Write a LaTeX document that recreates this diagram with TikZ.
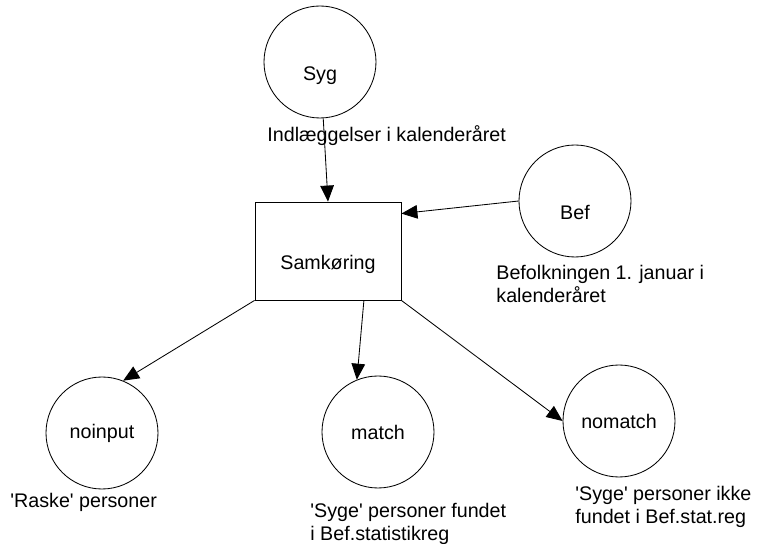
\documentclass[tikz,border=0pt]{standalone}
\usepackage{fontspec}
\setmainfont{Liberation Sans}
\usetikzlibrary{arrows.meta,positioning}

\begin{document}
\begin{tikzpicture}[
                ->,
                >={Triangle[length=4mm,width=3.4mm]},
                on grid,
                line width=0.6pt,
                font=\fontsize{14}{16}\selectfont,
                tabel/.style={circle,draw,minimum size=2.8cm,inner sep=0pt},
                job/.style={rectangle,draw,minimum width=3.65cm,minimum height=2.45cm},
                lavtekst/.style={text height=27pt,text depth=0pt},
                tekst/.style={inner sep=0pt,align=left}]
            \useasboundingbox (-8.2,-7.325) rectangle (10.925,6.275);

            \node[job,lavtekst]     (sam)     []                                        {Samkøring};
            \node[tabel,lavtekst]   (syg)     [above left=4.725cm and 0.2cm of sam]     {Syg};
            \node[tabel,lavtekst]   (bef)     [above right=1.25cm and 6.175cm of sam]   {Bef};
            \node[tabel]            (noinput) [below left=4.55cm and 5.65cm of sam]     {noinput};
            \node[tabel]            (match)   [below right=4.525cm and 1.25cm of sam]   {match};
            \node[tabel]            (nomatch) [below right=4.25cm and 7.275cm of sam]   {nomatch};

            % tekster under tabellerne
            \node[tekst] (sygtxt)     [below left=1.575cm and 1.325cm of syg, anchor=north west]
                {Indlæggelser i kalenderåret};
            \node[tekst] (beftxt)     [below left=1.6cm and 1.975cm of bef, anchor=north west]
                {Befolkningen 1. januar i\\kalenderåret};
            \node[tekst] (noinputtxt) [below left=1.5cm and 2.3cm of noinput, anchor=north west]
                {\textquotesingle Raske\textquotesingle{} personer};
            \node[tekst] (matchtxt)   [below left=1.775cm and 1.7cm of match, anchor=north west]
                {\textquotesingle Syge\textquotesingle{} personer fundet\\i Bef.statistikreg};
            \node[tekst] (nomatchtxt) [below left=1.625cm and 1.1cm of nomatch, anchor=north west]
                {\textquotesingle Syge\textquotesingle{} personer ikke\\fundet i Bef.stat.reg};

            \path[->]
            (syg)
                edge (sam.north)
            (bef.west)
                edge (sam.27)
            (sam.south west)
                edge (noinput.68)
            (sam.306)
                edge (match.112)
            (sam.south east)
                edge (nomatch.west);
        \end{tikzpicture}
\end{document}
